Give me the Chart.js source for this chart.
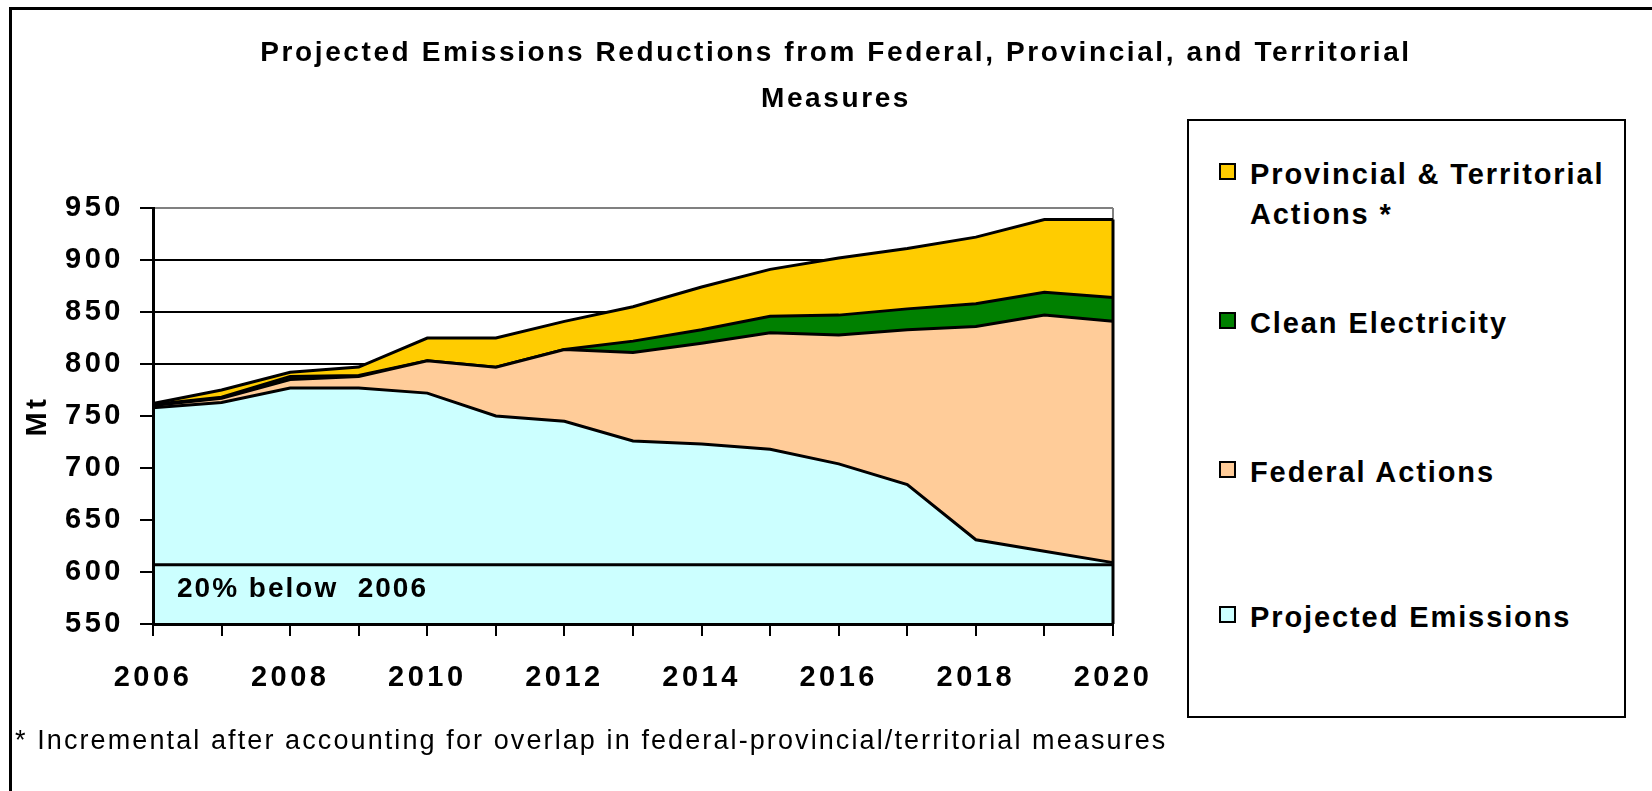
<!DOCTYPE html>
<html>
<head>
<meta charset="utf-8">
<script src="https://cdn.jsdelivr.net/npm/chart.js@4.4.1/dist/chart.umd.min.js"></script>
<style>
  html, body { margin: 0; padding: 0; background: #fff; }
  body { width: 1652px; height: 791px; position: relative; overflow: hidden;
         font-family: "Liberation Sans", Arial, sans-serif; color: #000; }
  #frame { position: absolute; left: 9px; top: 7px; width: 1700px; height: 900px; border: 3px solid #000; }
  #chart { position: absolute; left: 0; top: 0; }
  #title { position: absolute; left: 20px; width: 1632px; top: 29px; text-align: center;
           font-weight: bold; font-size: 28px; line-height: 46px; letter-spacing: 2.6px; }
  #legend { position: absolute; left: 1187px; top: 119px; width: 435px; height: 595px; border: 2px solid #000; background: #fff; }
  .item { position: absolute; left: 0; width: 430px; }
  .swatch { position: absolute; left: 30px; top: 9px; width: 13px; height: 13px; border: 2px solid #000; }
  .text { position: absolute; left: 61px; width: 368px; font-weight: bold; font-size: 29px;
          line-height: 40px; letter-spacing: 1.9px; }
  #note { position: absolute; left: 15px; top: 724px; font-size: 27px; line-height: 32px;
          letter-spacing: 2.1px; white-space: nowrap; }
</style>
</head>
<body>
<div id="frame"></div>
<canvas id="chart" width="1652" height="791"></canvas>
<div id="title">Projected Emissions Reductions from Federal, Provincial, and Territorial<br>Measures</div>
<div id="legend"></div>
<div id="note">* Incremental after accounting for overlap in federal-provincial/territorial measures</div>

<script>
const years = ['2006', '2007', '2008', '2009', '2010', '2011', '2012', '2013',
               '2014', '2015', '2016', '2017', '2018', '2019', '2020'];

// stacked increments, Mt
const projected  = [758, 763, 777, 777, 772, 750, 745, 726, 723, 718, 704, 684, 631, 620, 609];
const federal    = [2, 4, 8, 11, 31, 47, 69, 85, 97, 112, 124, 149, 205, 227, 232];
const clean      = [1, 1, 3, 1, 0, 0, 0, 11, 13, 16, 19, 20, 22, 22, 23];
const provincial = [1, 7, 4, 8, 22, 28, 27, 33, 41, 45, 55, 58, 64, 70, 75];

// 20% below the 2006 level
const target = [607, 607, 607, 607, 607, 607, 607, 607, 607, 607, 607, 607, 607, 607, 607];
const targetLabel = '20% below  2006';

const yMin = 550, yMax = 950, yStep = 50;

const FONT = '"Liberation Sans", Arial, sans-serif';

const extras = {
  id: 'extras',
  beforeUpdate(chart) { chart.ctx.letterSpacing = '3.5px'; },
  beforeDraw(chart) { chart.ctx.letterSpacing = '3.5px'; },
  afterDatasetsDraw(chart) {
    const { ctx, scales: { x, y } } = chart;
    const last = years.length - 1;
    const top = chart.getDatasetMeta(3).data[last];
    ctx.save();
    // right edge of the stacked areas
    ctx.strokeStyle = '#000';
    ctx.lineWidth = 3;
    ctx.beginPath();
    ctx.moveTo(top.x, top.y);
    ctx.lineTo(top.x, y.bottom);
    ctx.stroke();
    // label under the target line
    ctx.letterSpacing = '2px';
    ctx.font = 'bold 28px ' + FONT;
    ctx.fillStyle = '#000';
    ctx.textAlign = 'left';
    ctx.textBaseline = 'alphabetic';
    ctx.fillText(targetLabel, x.getPixelForValue(0) + 24, y.getPixelForValue(576));
    ctx.restore();
  }
};

const data = {
  labels: years,
  datasets: [
    { label: 'Projected Emissions', data: projected, backgroundColor: '#CCFFFF', fill: 'start', stack: 'a' },
    { label: 'Federal Actions', data: federal, backgroundColor: '#FFCC99', fill: '-1', stack: 'a' },
    { label: 'Clean Electricity', data: clean, backgroundColor: '#008000', fill: '-1', stack: 'a' },
    { label: 'Provincial & Territorial Actions *', data: provincial, backgroundColor: '#FFCC00', fill: '-1', stack: 'a' },
    { label: 'target', data: target, fill: false, stack: 'b', order: -1, inLegend: false }
  ]
};

const myChart = new Chart(document.getElementById('chart'), {
  type: 'line',
  data: data,
  plugins: [extras],
  options: {
    responsive: false,
    animation: false,
    devicePixelRatio: 1,
    layout: { padding: { top: 208, right: 539, left: 0, bottom: 0 } },
    elements: {
      point: { radius: 0, hoverRadius: 0 },
      line: { tension: 0, borderColor: '#000', borderWidth: 3 }
    },
    plugins: {
      legend: { display: false },
      tooltip: { enabled: false },
      title: { display: false }
    },
    scales: {
      x: {
        offset: false,
        grid: {
          color: (c) => c.index === years.length - 1 ? '#808080' : 'rgba(0,0,0,0)',
          lineWidth: 2,
          tickColor: '#000',
          tickLength: 12,
          tickWidth: 2
        },
        border: { color: '#000', width: 3, z: 1 },
        ticks: {
          autoSkip: false,
          maxRotation: 0,
          padding: 25,
          color: '#000',
          font: { family: FONT, size: 29, weight: 'bold' },
          callback: (v, i) => (i % 2 === 0 ? years[i] : '')
        },
        afterFit: (s) => { s.height = 167; }
      },
      y: {
        stacked: true,
        min: yMin,
        max: yMax,
        ticks: {
          stepSize: yStep,
          padding: 16,
          color: '#000',
          font: { family: FONT, size: 29, weight: 'bold' }
        },
        grid: {
          color: (c) => (c.tick && c.tick.value === yMax ? '#808080' : '#000'),
          lineWidth: 2,
          tickColor: '#000',
          tickLength: 13,
          tickWidth: 2
        },
        border: { color: '#000', width: 3, z: 1 },
        title: {
          display: true,
          text: 'Mt',
          color: '#000',
          font: { family: FONT, size: 29, weight: 'bold' },
          padding: { top: 21, bottom: 0 }
        },
        afterFit: (s) => { s.width = 153; }
      }
    }
  }
});

// html legend built from the chart's datasets, top series first
const legendTops = [33, 182, 331, 476];
const legendEl = document.getElementById('legend');
myChart.data.datasets
  .filter((d) => d.inLegend !== false)
  .reverse()
  .forEach((d, i) => {
    const item = document.createElement('div');
    item.className = 'item';
    item.style.top = legendTops[i] + 'px';
    const sw = document.createElement('div');
    sw.className = 'swatch';
    sw.style.background = d.backgroundColor;
    const tx = document.createElement('div');
    tx.className = 'text';
    tx.textContent = d.label;
    item.appendChild(sw);
    item.appendChild(tx);
    legendEl.appendChild(item);
  });
</script>
</body>
</html>
